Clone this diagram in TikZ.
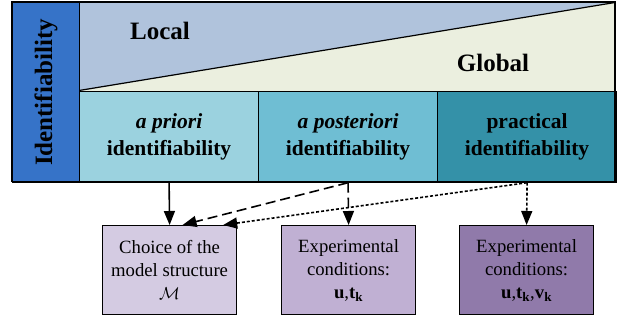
\documentclass[tikz,border=0pt]{standalone}
\usepackage{fontspec}
\setmainfont{Liberation Serif}
\usetikzlibrary{arrows.meta}
\definecolor{idblue}{HTML}{3673C8}
\definecolor{localc}{HTML}{B0C3DC}
\definecolor{globalc}{HTML}{EBEFDF}
\definecolor{aprc}{HTML}{9BD2DF}
\definecolor{apoc}{HTML}{6FBED3}
\definecolor{prac}{HTML}{3491A8}
\definecolor{boxa}{HTML}{D4CBE2}
\definecolor{boxb}{HTML}{C0B0D3}
\definecolor{boxc}{HTML}{907AAA}
\begin{document}
\begin{tikzpicture}[x=1pt,y=-1pt,
  cell/.style={draw=black,line width=1.2pt,minimum width=179pt,minimum height=90.5pt,
    anchor=north west,inner sep=0pt,align=center,font=\fontsize{21.5}{27}\selectfont\bfseries},
  box/.style={draw=black,line width=1.2pt,minimum width=134pt,minimum height=89pt,
    anchor=north west,inner sep=0pt,align=center,font=\fontsize{18.7}{23}\selectfont},
  big/.style={font=\fontsize{25}{30}\selectfont\bfseries,inner sep=0pt},
  arr/.style={line width=1.6pt,-{Triangle[length=14pt,width=11pt]}},
  dashedarr/.style={arr,dash pattern=on 10pt off 5pt},
  dottedarr/.style={arr,dash pattern=on 3pt off 2pt}]
\useasboundingbox (0,0) rectangle (625,320);
% top band: local / global
\fill[globalc] (79,2) rectangle (615,91);
\fill[localc] (79,2) -- (615,2) -- (79,91) -- cycle;
\draw[line width=1.2pt] (79,90.5) -- (615,2.5);
\node[big] (local) at (160,31) {Local};
\node[big] (global) at (493,63) {Global};
% left column
\node[draw=black,line width=1.2pt,fill=idblue,minimum width=67pt,minimum height=179.5pt,
  anchor=north west,inner sep=0pt] (idcol) at (12,2) {};
\node[big,rotate=90] (idtext) at (idcol.center) {Identifiability};
% cells
\node[cell,fill=aprc] (apriori) at (79,91) {\textit{a priori}\\identifiability};
\node[cell,fill=apoc] (apost) at (258,91) {\textit{a posteriori}\\identifiability};
\node[cell,fill=prac] (practical) at (437,91) {practical\\identifiability};
\draw[line width=1.2pt] (12,2) rectangle (615,181.5);
% boxes
\node[box,fill=boxa] (box1) at (102,225) {Choice of the\\model structure\\$\mathcal{M}$};
\node[box,fill=boxb] (box2) at (281,225) {Experimental\\conditions:\\\textbf{u},\textbf{t}\textsubscript{\textbf{k}}};
\node[box,fill=boxc] (box3) at (459,225) {Experimental\\conditions:\\\textbf{u},\textbf{t}\textsubscript{\textbf{k}},\textbf{v}\textsubscript{\textbf{k}}};
% arrows
\draw[arr] (apriori.south) -- (box1.north);
\draw[dashedarr] (apost.south) -- ([xshift=13pt]box1.north);
\draw[dashedarr] (apost.south) -- (box2.north);
\draw[dottedarr] (practical.south) -- ([xshift=-14pt]box1.north east);
\draw[dottedarr] (practical.south) -- (box3.north);
\end{tikzpicture}
\end{document}
